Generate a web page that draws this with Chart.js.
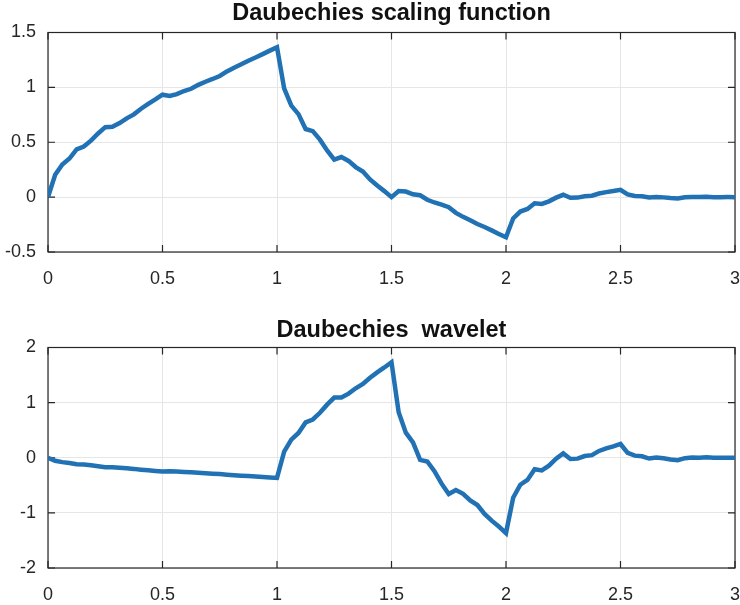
<!DOCTYPE html>
<html>
<head>
<meta charset="utf-8">
<script src="https://cdn.jsdelivr.net/npm/chart.js"></script>
<style>
  body { margin: 0; background: #fff; }
  #wrap { position: relative; width: 740px; height: 605px; }
  canvas { position: absolute; left: 0; }
  #c-phi { top: 0; }
  #c-psi { top: 300px; }
</style>
</head>
<body>
<div id="wrap">
  <canvas id="c-phi" width="740" height="300"></canvas>
  <canvas id="c-psi" width="740" height="305"></canvas>
</div>
<script>
// sample positions (t)
const xs = [
  0, 0.03125, 0.0625, 0.09375, 0.125, 0.15625, 0.1875, 0.21875,
  0.25, 0.28125, 0.3125, 0.34375, 0.375, 0.40625, 0.4375, 0.46875,
  0.5, 0.53125, 0.5625, 0.59375, 0.625, 0.65625, 0.6875, 0.71875,
  0.75, 0.78125, 0.8125, 0.84375, 0.875, 0.90625, 0.9375, 0.96875,
  1, 1.03125, 1.0625, 1.09375, 1.125, 1.15625, 1.1875, 1.21875,
  1.25, 1.28125, 1.3125, 1.34375, 1.375, 1.40625, 1.4375, 1.46875,
  1.5, 1.53125, 1.5625, 1.59375, 1.625, 1.65625, 1.6875, 1.71875,
  1.75, 1.78125, 1.8125, 1.84375, 1.875, 1.90625, 1.9375, 1.96875,
  2, 2.03125, 2.0625, 2.09375, 2.125, 2.15625, 2.1875, 2.21875,
  2.25, 2.28125, 2.3125, 2.34375, 2.375, 2.40625, 2.4375, 2.46875,
  2.5, 2.53125, 2.5625, 2.59375, 2.625, 2.65625, 2.6875, 2.71875,
  2.75, 2.78125, 2.8125, 2.84375, 2.875, 2.90625, 2.9375, 2.96875,
  3
];

// scaling function phi(t)
const phiVals = [
  0, 0.2031, 0.2973, 0.3517, 0.4353, 0.4605, 0.5150, 0.5801,
  0.6373, 0.6412, 0.6742, 0.7180, 0.7540, 0.8054, 0.8493, 0.8901,
  0.9330, 0.9213, 0.9388, 0.9669, 0.9871, 1.0231, 1.0513, 1.0766,
  1.1039, 1.1454, 1.1792, 1.2103, 1.2434, 1.2721, 1.3032, 1.3350,
  1.3660, 0.9911, 0.8340, 0.7564, 0.6205, 0.6013, 0.5237, 0.4249,
  0.3415, 0.3649, 0.3301, 0.2739, 0.2333, 0.1615, 0.1053, 0.0547,
  0, 0.0547, 0.0510, 0.0261, 0.0168, -0.0239, -0.0489, -0.0681,
  -0.0915, -0.1435, -0.1799, -0.2106, -0.2456, -0.2720, -0.3027, -0.3350,
  -0.3660, -0.1942, -0.1313, -0.1080, -0.0558, -0.0618, -0.0386, -0.0048,
  0.0212, -0.0061, -0.0043, 0.0082, 0.0128, 0.0331, 0.0456, 0.0553,
  0.0670, 0.0240, 0.0102, 0.0071, -0.0039, 0.0008, -0.0023, -0.0083,
  -0.0123, -0.0019, 0.0007, 0.0004, 0.0023, -0.0001, -0.0004, 0.0001,
  0
];

// wavelet psi(t)
const psiVals = [
  0, -0.0544, -0.0797, -0.0942, -0.1166, -0.1234, -0.1380, -0.1554,
  -0.1707, -0.1718, -0.1806, -0.1924, -0.2020, -0.2158, -0.2275, -0.2385,
  -0.2500, -0.2468, -0.2516, -0.2591, -0.2645, -0.2741, -0.2817, -0.2885,
  -0.2958, -0.3069, -0.3160, -0.3244, -0.3332, -0.3409, -0.3493, -0.3577,
  -0.3660, 0.1113, 0.3285, 0.4503, 0.6417, 0.6938, 0.8157, 0.9630,
  1.0914, 1.0925, 1.1631, 1.2596, 1.3372, 1.4519, 1.5484, 1.6378,
  1.7320, 0.8251, 0.4545, 0.2800, -0.0380, -0.0686, -0.2431, -0.4700,
  -0.6584, -0.5841, -0.6531, -0.7751, -0.8583, -1.0184, -1.1404, -1.2481,
  -1.3660, -0.7249, -0.4898, -0.4034, -0.2081, -0.2306, -0.1442, -0.0180,
  0.0793, -0.0227, -0.0161, 0.0307, 0.0479, 0.1237, 0.1704, 0.2062,
  0.2500, 0.0897, 0.0381, 0.0264, -0.0145, 0.0029, -0.0087, -0.0311,
  -0.0458, -0.0070, 0.0027, 0.0016, 0.0084, -0.0005, -0.0016, 0.0003,
  0
];

const xTicks = [0, 0.5, 1, 1.5, 2, 2.5, 3];
const phiTicks = [-0.5, 0, 0.5, 1, 1.5];
const psiTicks = [-2, -1, 0, 1, 2];

const FONT = '"Liberation Sans", Arial, Helvetica, sans-serif';
const LINE_COLOR = '#2171b5';
const AXIS_COLOR = '#262626';
const GRID_COLOR = '#e6e6e6';

// box around the plot area + inward ticks on all four sides
const framePlugin = {
  id: 'frame',
  beforeDatasetsDraw(chart) {
    const { ctx, chartArea: a, scales } = chart;
    const tl = 7;
    ctx.save();
    ctx.strokeStyle = AXIS_COLOR;
    ctx.lineWidth = 1.2;
    ctx.strokeRect(a.left, a.top, a.right - a.left, a.bottom - a.top);
    ctx.beginPath();
    scales.x.ticks.forEach(t => {
      const px = scales.x.getPixelForValue(t.value);
      ctx.moveTo(px, a.bottom); ctx.lineTo(px, a.bottom - tl);
      ctx.moveTo(px, a.top); ctx.lineTo(px, a.top + tl);
    });
    scales.y.ticks.forEach(t => {
      const py = scales.y.getPixelForValue(t.value);
      ctx.moveTo(a.left, py); ctx.lineTo(a.left + tl, py);
      ctx.moveTo(a.right, py); ctx.lineTo(a.right - tl, py);
    });
    ctx.stroke();
    ctx.restore();
  }
};

function makePlot(canvasId, title, values, yTicks, titlePad, xAxisHeight) {
  const ctx = document.getElementById(canvasId).getContext('2d');
  return new Chart(ctx, {
    type: 'line',
    data: {
      datasets: [{
        data: xs.map((x, i) => ({ x: x, y: values[i] })),
        borderColor: LINE_COLOR,
        borderWidth: 4.5,
        pointRadius: 0,
        tension: 0,
        fill: false
      }]
    },
    options: {
      responsive: false,
      animation: false,
      layout: { padding: { left: 0, right: 5, top: 0, bottom: 0 } },
      plugins: {
        legend: { display: false },
        tooltip: { enabled: false },
        title: {
          display: true,
          text: title,
          fullSize: false,
          color: '#111',
          font: { family: FONT, size: 23.5, weight: 'bold', lineHeight: 1 },
          padding: titlePad
        }
      },
      scales: {
        x: {
          type: 'linear',
          min: 0, max: 3,
          afterBuildTicks: s => { s.ticks = xTicks.map(v => ({ value: v })); },
          afterFit: s => {
            s.height = xAxisHeight;
            // labels at the ends may hang over the frame
            s.paddingLeft = 0;
            s.paddingRight = 0;
          },
          grid: { color: GRID_COLOR, lineWidth: 1, drawTicks: false },
          border: { display: false },
          ticks: {
            color: AXIS_COLOR,
            font: { family: FONT, size: 18 },
            padding: 16,
            maxRotation: 0,
            callback: v => String(v)
          }
        },
        y: {
          type: 'linear',
          min: yTicks[0], max: yTicks[yTicks.length - 1],
          afterBuildTicks: s => { s.ticks = yTicks.map(v => ({ value: v })); },
          afterFit: s => {
            s.width = 48;
            s.paddingTop = 0;
            s.paddingBottom = 0;
          },
          grid: { color: GRID_COLOR, lineWidth: 1, drawTicks: false },
          border: { display: false },
          ticks: {
            color: AXIS_COLOR,
            font: { family: FONT, size: 18 },
            padding: 12,
            callback: v => String(v)
          }
        }
      }
    },
    plugins: [framePlugin]
  });
}

makePlot('c-phi', 'Daubechies scaling function', phiVals, phiTicks, { top: 2, bottom: 7 }, 48);
makePlot('c-psi', 'Daubechies  wavelet', psiVals, psiTicks, { top: 19, bottom: 5 }, 37);
</script>
</body>
</html>
